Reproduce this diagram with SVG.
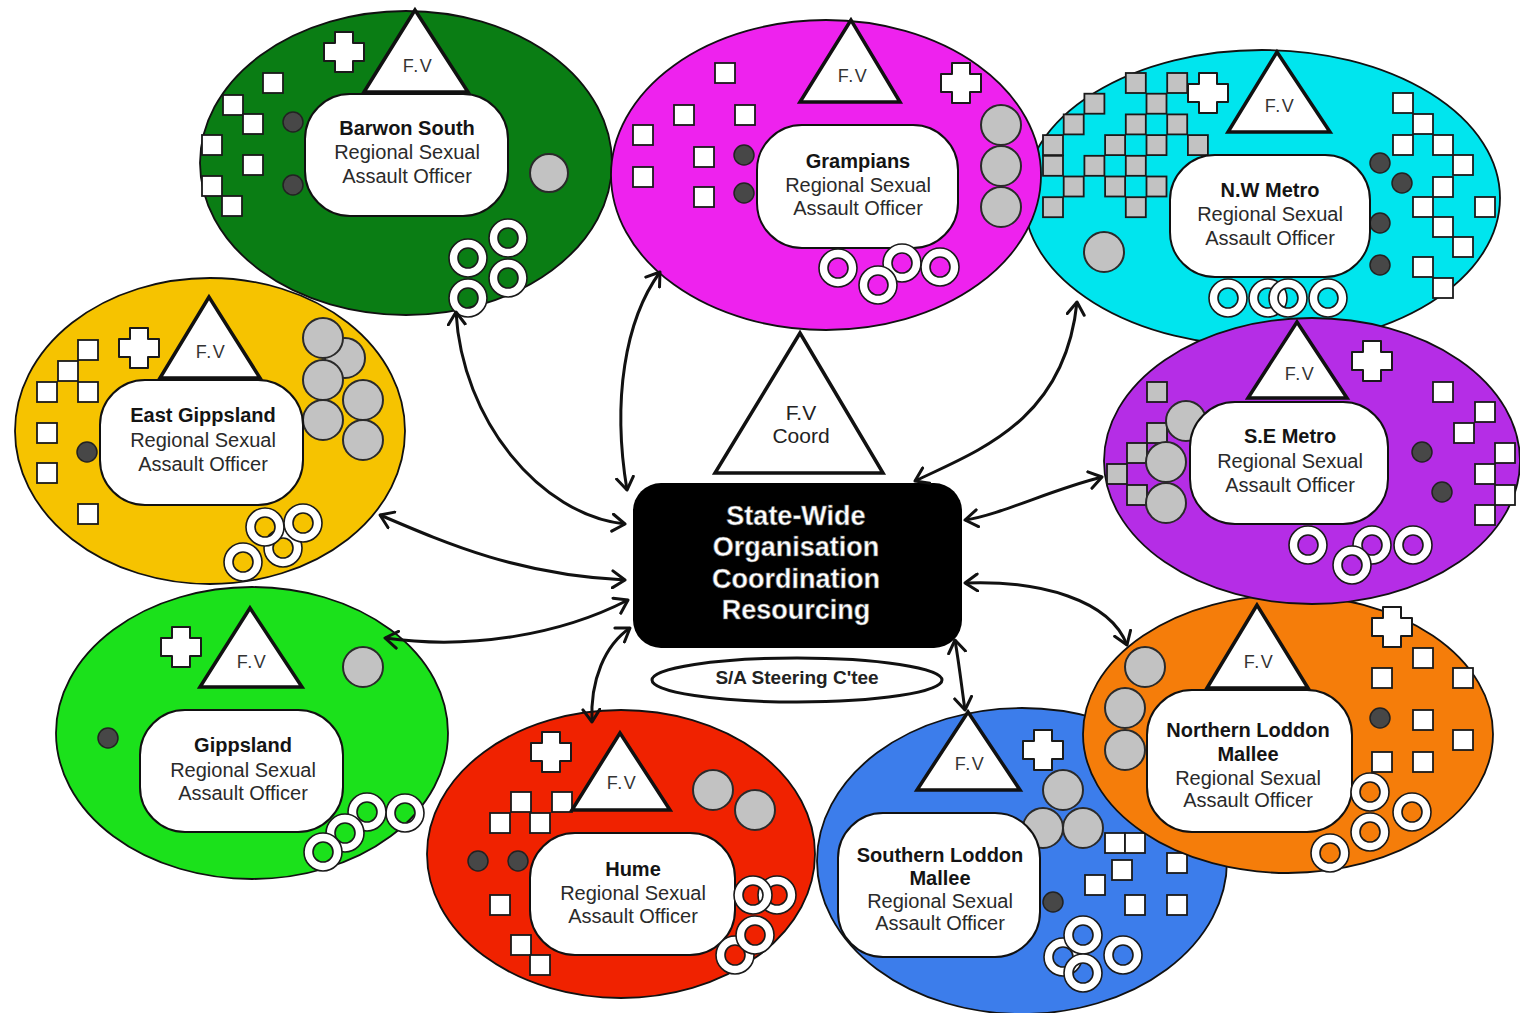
<svg xmlns="http://www.w3.org/2000/svg" xmlns:xlink="http://www.w3.org/1999/xlink" width="1520" height="1013" viewBox="0 0 1520 1013">
<style>
.el{stroke:#111;stroke-width:1.8}
.box{fill:#fff;stroke:#111;stroke-width:2}
.tri{fill:#fff;stroke:#111;stroke-width:3.5;stroke-linejoin:miter}
.w{fill:#fff;stroke:#1a1a1a;stroke-width:1.8}
.g{fill:#c2c2c2;stroke:#1a1a1a;stroke-width:1.8}
.gc{fill:#c2c2c2;stroke:#2a2a2a;stroke-width:2}
.dot{fill:#474747;stroke:#222;stroke-width:1.5}
.ring{fill:#fff;stroke:#1a1a1a;stroke-width:1.6;fill-rule:evenodd}
.cr{fill:#fff;stroke:#1a1a1a;stroke-width:2;stroke-linejoin:round}
text{font-family:"Liberation Sans",Arial,Helvetica,sans-serif;text-anchor:middle}
.t{font-size:20px;fill:#2a2a2a}
.tb{font-size:20px;font-weight:bold;fill:#141414}
.fv{font-size:18px;letter-spacing:1.5px;fill:#333}
.ctr{font-size:27px;font-weight:bold;fill:#fff;stroke:#666;stroke-width:0.6}
.con{fill:none;stroke:#111;stroke-width:3;marker-start:url(#ah);marker-end:url(#ah)}
</style>
<defs>
<marker id="ah" viewBox="0 0 16 20" refX="14" refY="10" markerWidth="16" markerHeight="20" markerUnits="userSpaceOnUse" orient="auto-start-reverse">
<path d="M1.5,1.5 L14,10 L1.5,18.5" fill="none" stroke="#111" stroke-width="3" stroke-linecap="round" stroke-linejoin="round"/>
</marker>
<path id="ring" d="M-19,0a19,19 0 1,0 38,0a19,19 0 1,0 -38,0ZM-10,0a10,10 0 1,0 20,0a10,10 0 1,0 -20,0Z"/>
<path id="cross" d="M-9,-20H9V-9H20V9H9V20H-9V9H-20V-9H-9Z"/>
<rect id="sq" width="20" height="20"/>
</defs>
<rect width="1520" height="1013" fill="#fff"/>

<g id="east-gippsland">
<ellipse class="el" cx="210" cy="431" rx="195" ry="153" fill="#f6c300"/>
<use href="#sq" class="w" x="78" y="340"/><use href="#sq" class="w" x="58" y="361"/><use href="#sq" class="w" x="37" y="382"/><use href="#sq" class="w" x="78" y="382"/><use href="#sq" class="w" x="37" y="423"/><use href="#sq" class="w" x="37" y="463"/><use href="#sq" class="w" x="78" y="504"/>
<use href="#cross" class="cr" x="139" y="348"/>
<circle class="gc" cx="345" cy="358" r="20"/><circle class="gc" cx="323" cy="338" r="20"/><circle class="gc" cx="323" cy="380" r="20"/><circle class="gc" cx="363" cy="400" r="20"/><circle class="gc" cx="323" cy="420" r="20"/><circle class="gc" cx="363" cy="440" r="20"/>
<path class="tri" d="M209,297 L160,378 L260,378 Z"/>
<text class="fv" x="211" y="358">F.V</text>
<rect class="box" x="100" y="380" width="203" height="125" rx="45"/>
<circle class="dot" cx="87" cy="452" r="10"/>
<text class="tb" x="203" y="422">East Gippsland</text>
<text class="t" x="203" y="447">Regional Sexual</text>
<text class="t" x="203" y="471">Assault Officer</text>
<use href="#ring" class="ring" x="283" y="548"/><use href="#ring" class="ring" x="265" y="527"/><use href="#ring" class="ring" x="303" y="523"/><use href="#ring" class="ring" x="243" y="562"/>
</g>

<g id="gippsland">
<ellipse class="el" cx="252" cy="733" rx="196" ry="146" fill="#1be11b"/>
<use href="#cross" class="cr" x="181" y="647"/>
<circle class="gc" cx="363" cy="667" r="20"/>
<circle class="dot" cx="108" cy="738" r="10"/>
<path class="tri" d="M250,608 L200,687 L302,687 Z"/>
<text class="fv" x="252" y="668">F.V</text>
<rect class="box" x="140" y="710" width="203" height="122" rx="45"/>
<text class="tb" x="243" y="752">Gippsland</text>
<text class="t" x="243" y="777">Regional Sexual</text>
<text class="t" x="243" y="800">Assault Officer</text>
<use href="#ring" class="ring" x="405" y="813"/><use href="#ring" class="ring" x="367" y="812"/><use href="#ring" class="ring" x="345" y="833"/><use href="#ring" class="ring" x="323" y="852"/>
</g>

<g id="barwon-south">
<ellipse class="el" cx="406" cy="163" rx="206" ry="152" fill="#0a7d14"/>
<use href="#sq" class="w" x="263" y="73"/><use href="#sq" class="w" x="223" y="95"/><use href="#sq" class="w" x="243" y="114"/><use href="#sq" class="w" x="202" y="135"/><use href="#sq" class="w" x="243" y="155"/><use href="#sq" class="w" x="202" y="176"/><use href="#sq" class="w" x="222" y="196"/>
<circle class="dot" cx="293" cy="122" r="10"/><circle class="dot" cx="293" cy="185" r="10"/>
<circle class="gc" cx="549" cy="173" r="19"/>
<use href="#cross" class="cr" x="344" y="52"/>
<path class="tri" d="M415,10 L364,92 L468,92 Z"/>
<text class="fv" x="418" y="72">F.V</text>
<rect class="box" x="305" y="94" width="203" height="122" rx="45"/>
<text class="tb" x="407" y="135">Barwon South</text>
<text class="t" x="407" y="159">Regional Sexual</text>
<text class="t" x="407" y="183">Assault Officer</text>
<use href="#ring" class="ring" x="508" y="238"/><use href="#ring" class="ring" x="468" y="258"/><use href="#ring" class="ring" x="508" y="278"/><use href="#ring" class="ring" x="468" y="298"/>
</g>

<g id="hume">
<ellipse class="el" cx="621" cy="854" rx="194" ry="144" fill="#f02200"/>
<use href="#cross" class="cr" x="551" y="752"/>
<circle class="gc" cx="713" cy="790" r="20"/><circle class="gc" cx="755" cy="810" r="20"/>
<use href="#sq" class="w" x="511" y="792"/><use href="#sq" class="w" x="552" y="792"/><use href="#sq" class="w" x="490" y="813"/><use href="#sq" class="w" x="530" y="813"/><use href="#sq" class="w" x="490" y="895"/><use href="#sq" class="w" x="511" y="935"/><use href="#sq" class="w" x="530" y="955"/>
<circle class="dot" cx="478" cy="861" r="10"/><circle class="dot" cx="518" cy="861" r="10"/>
<path class="tri" d="M620,733 L572,810 L670,810 Z"/>
<text class="fv" x="622" y="789">F.V</text>
<rect class="box" x="530" y="833" width="205" height="122" rx="45"/>
<text class="tb" x="633" y="876">Hume</text>
<text class="t" x="633" y="900">Regional Sexual</text>
<text class="t" x="633" y="923">Assault Officer</text>
<use href="#ring" class="ring" x="735" y="955"/><use href="#ring" class="ring" x="755" y="935"/><use href="#ring" class="ring" x="777" y="895"/><use href="#ring" class="ring" x="753" y="895"/>
</g>

<g id="southern-loddon-mallee">
<ellipse class="el" cx="1022" cy="861" rx="205" ry="153" fill="#3c7deb"/>
<use href="#cross" class="cr" x="1043" y="750"/>
<circle class="gc" cx="1063" cy="790" r="20"/><circle class="gc" cx="1043" cy="828" r="20"/><circle class="gc" cx="1083" cy="828" r="20"/>
<use href="#sq" class="w" x="1105" y="833"/><use href="#sq" class="w" x="1125" y="833"/><use href="#sq" class="w" x="1167" y="853"/><use href="#sq" class="w" x="1112" y="860"/><use href="#sq" class="w" x="1085" y="875"/><use href="#sq" class="w" x="1125" y="895"/><use href="#sq" class="w" x="1167" y="895"/>
<circle class="dot" cx="1053" cy="902" r="10"/>
<path class="tri" d="M968,712 L917,790 L1020,790 Z"/>
<text class="fv" x="970" y="770">F.V</text>
<rect class="box" x="838" y="813" width="202" height="144" rx="45"/>
<text class="tb" x="940" y="862">Southern Loddon</text>
<text class="tb" x="940" y="885">Mallee</text>
<text class="t" x="940" y="908">Regional Sexual</text>
<text class="t" x="940" y="930">Assault Officer</text>
<use href="#ring" class="ring" x="1063" y="957"/><use href="#ring" class="ring" x="1123" y="955"/><use href="#ring" class="ring" x="1083" y="935"/><use href="#ring" class="ring" x="1083" y="973"/>
</g>

<g id="northern-loddon-mallee">
<ellipse class="el" cx="1288" cy="734" rx="205" ry="139" fill="#f57d0a"/>
<circle class="gc" cx="1145" cy="667" r="20"/><circle class="gc" cx="1125" cy="708" r="20"/><circle class="gc" cx="1125" cy="750" r="20"/>
<use href="#cross" class="cr" x="1392" y="627"/>
<use href="#sq" class="w" x="1413" y="648"/><use href="#sq" class="w" x="1372" y="668"/><use href="#sq" class="w" x="1453" y="668"/><use href="#sq" class="w" x="1413" y="710"/><use href="#sq" class="w" x="1453" y="730"/><use href="#sq" class="w" x="1372" y="752"/><use href="#sq" class="w" x="1413" y="752"/>
<circle class="dot" cx="1380" cy="718" r="10"/>
<path class="tri" d="M1257,605 L1207,688 L1308,688 Z"/>
<text class="fv" x="1259" y="668">F.V</text>
<rect class="box" x="1147" y="690" width="205" height="142" rx="45"/>
<text class="tb" x="1248" y="737">Northern Loddon</text>
<text class="tb" x="1248" y="761">Mallee</text>
<text class="t" x="1248" y="785">Regional Sexual</text>
<text class="t" x="1248" y="807">Assault Officer</text>
<use href="#ring" class="ring" x="1370" y="792"/><use href="#ring" class="ring" x="1412" y="812"/><use href="#ring" class="ring" x="1370" y="832"/><use href="#ring" class="ring" x="1330" y="853"/>
</g>

<g id="nw-metro">
<ellipse class="el" cx="1262" cy="198" rx="238" ry="148" fill="#00e5ee"/>
<use href="#sq" class="g" x="1125.8" y="73"/><use href="#sq" class="g" x="1167.2" y="73"/>
<use href="#sq" class="g" x="1084.4" y="93.7"/><use href="#sq" class="g" x="1146.5" y="93.7"/>
<use href="#sq" class="g" x="1063.7" y="114.4"/><use href="#sq" class="g" x="1125.8" y="114.4"/><use href="#sq" class="g" x="1167.2" y="114.4"/>
<use href="#sq" class="g" x="1043" y="135.1"/><use href="#sq" class="g" x="1105.1" y="135.1"/><use href="#sq" class="g" x="1146.5" y="135.1"/><use href="#sq" class="g" x="1187.9" y="135.1"/>
<use href="#sq" class="g" x="1043" y="155.8"/><use href="#sq" class="g" x="1084.4" y="155.8"/><use href="#sq" class="g" x="1125.8" y="155.8"/>
<use href="#sq" class="g" x="1063.7" y="176.5"/><use href="#sq" class="g" x="1105.1" y="176.5"/><use href="#sq" class="g" x="1146.5" y="176.5"/>
<use href="#sq" class="g" x="1043" y="197.2"/><use href="#sq" class="g" x="1125.8" y="197.2"/>
<use href="#cross" class="cr" x="1208" y="93"/>
<circle class="gc" cx="1104" cy="252" r="20"/>
<use href="#sq" class="w" x="1393" y="93"/><use href="#sq" class="w" x="1413" y="114"/><use href="#sq" class="w" x="1393" y="135"/><use href="#sq" class="w" x="1433" y="135"/><use href="#sq" class="w" x="1453" y="155"/><use href="#sq" class="w" x="1433" y="177"/><use href="#sq" class="w" x="1413" y="197"/><use href="#sq" class="w" x="1475" y="197"/><use href="#sq" class="w" x="1433" y="217"/><use href="#sq" class="w" x="1453" y="237"/><use href="#sq" class="w" x="1413" y="257"/><use href="#sq" class="w" x="1433" y="278"/>
<circle class="dot" cx="1380" cy="163" r="10"/><circle class="dot" cx="1402" cy="183" r="10"/><circle class="dot" cx="1380" cy="223" r="10"/><circle class="dot" cx="1380" cy="265" r="10"/>
<path class="tri" d="M1277,52 L1228,132 L1330,132 Z"/>
<text class="fv" x="1280" y="112">F.V</text>
<rect class="box" x="1170" y="155" width="200" height="122" rx="45"/>
<text class="tb" x="1270" y="197">N.W Metro</text>
<text class="t" x="1270" y="221">Regional Sexual</text>
<text class="t" x="1270" y="245">Assault Officer</text>
<use href="#ring" class="ring" x="1228" y="298"/><use href="#ring" class="ring" x="1328" y="298"/><use href="#ring" class="ring" x="1268" y="298"/><use href="#ring" class="ring" x="1288" y="298"/>
</g>

<g id="grampians">
<ellipse class="el" cx="826" cy="175" rx="215" ry="155" fill="#ee22ee"/>
<use href="#sq" class="w" x="715" y="63"/><use href="#sq" class="w" x="674" y="105"/><use href="#sq" class="w" x="735" y="105"/><use href="#sq" class="w" x="633" y="125"/><use href="#sq" class="w" x="694" y="147"/><use href="#sq" class="w" x="633" y="167"/><use href="#sq" class="w" x="694" y="187"/>
<circle class="dot" cx="744" cy="155" r="10"/><circle class="dot" cx="744" cy="193" r="10"/>
<circle class="gc" cx="1001" cy="125" r="20"/><circle class="gc" cx="1001" cy="166" r="20"/><circle class="gc" cx="1001" cy="207" r="20"/>
<use href="#cross" class="cr" x="961" y="83"/>
<path class="tri" d="M851,20 L800,102 L900,102 Z"/>
<text class="fv" x="853" y="82">F.V</text>
<rect class="box" x="757" y="125" width="201" height="123" rx="45"/>
<text class="tb" x="858" y="168">Grampians</text>
<text class="t" x="858" y="192">Regional Sexual</text>
<text class="t" x="858" y="215">Assault Officer</text>
<use href="#ring" class="ring" x="838" y="268"/><use href="#ring" class="ring" x="902" y="263"/><use href="#ring" class="ring" x="940" y="267"/><use href="#ring" class="ring" x="878" y="285"/>
</g>

<g id="se-metro">
<ellipse class="el" cx="1312" cy="461" rx="208" ry="143" fill="#b52de6"/>
<use href="#sq" class="g" x="1147" y="382"/><use href="#sq" class="g" x="1147" y="423"/><use href="#sq" class="g" x="1127" y="443"/><use href="#sq" class="g" x="1107" y="464"/><use href="#sq" class="g" x="1127" y="485"/>
<circle class="gc" cx="1186" cy="421" r="20"/><circle class="gc" cx="1166" cy="462" r="20"/><circle class="gc" cx="1166" cy="503" r="20"/>
<use href="#cross" class="cr" x="1372" y="361"/>
<use href="#sq" class="w" x="1433" y="382"/><use href="#sq" class="w" x="1475" y="402"/><use href="#sq" class="w" x="1454" y="423"/><use href="#sq" class="w" x="1495" y="443"/><use href="#sq" class="w" x="1475" y="464"/><use href="#sq" class="w" x="1495" y="485"/><use href="#sq" class="w" x="1475" y="505"/>
<circle class="dot" cx="1422" cy="452" r="10"/><circle class="dot" cx="1442" cy="492" r="10"/>
<path class="tri" d="M1297,322 L1248,398 L1347,398 Z"/>
<text class="fv" x="1300" y="380">F.V</text>
<rect class="box" x="1190" y="402" width="198" height="122" rx="45"/>
<text class="tb" x="1290" y="443">S.E Metro</text>
<text class="t" x="1290" y="468">Regional Sexual</text>
<text class="t" x="1290" y="492">Assault Officer</text>
<use href="#ring" class="ring" x="1308" y="545"/><use href="#ring" class="ring" x="1372" y="545"/><use href="#ring" class="ring" x="1413" y="545"/><use href="#ring" class="ring" x="1352" y="565"/>
</g>

<g id="fv-coord">
<path class="tri" d="M800,333 L715,473 L883,473 Z"/>
<text x="801" y="420" style="font-size:21px;fill:#222">F.V</text>
<text x="801" y="443" style="font-size:21px;fill:#222">Coord</text>
</g>

<g id="state-wide">
<rect x="633" y="483" width="329" height="165" rx="28" fill="#000"/>
<text class="ctr" x="796" y="525">State-Wide</text>
<text class="ctr" x="796" y="556">Organisation</text>
<text class="ctr" x="796" y="588">Coordination</text>
<text class="ctr" x="796" y="619">Resourcing</text>
</g>

<g id="steering">
<ellipse cx="797" cy="680" rx="145" ry="22" fill="#fff" stroke="#111" stroke-width="3"/>
<text x="797" y="684" style="font-size:19px;font-weight:bold;fill:#222">S/A Steering C'tee</text>
</g>

<g id="connectors">
<path class="con" d="M456,312 C462,420 540,515 625,524"/>
<path class="con" d="M660,272 C625,320 612,400 627,490"/>
<path class="con" d="M1077,302 C1065,420 980,450 915,481"/>
<path class="con" d="M1102,477 C1050,490 1000,515 965,520"/>
<path class="con" d="M965,583 C1040,580 1110,600 1127,645"/>
<path class="con" d="M955,640 C960,670 962,690 965,710"/>
<path class="con" d="M380,515 C450,545 520,575 625,580"/>
<path class="con" d="M385,638 C470,650 560,635 628,600"/>
<path class="con" d="M592,722 C590,680 605,645 630,628"/>
</g>
</svg>
